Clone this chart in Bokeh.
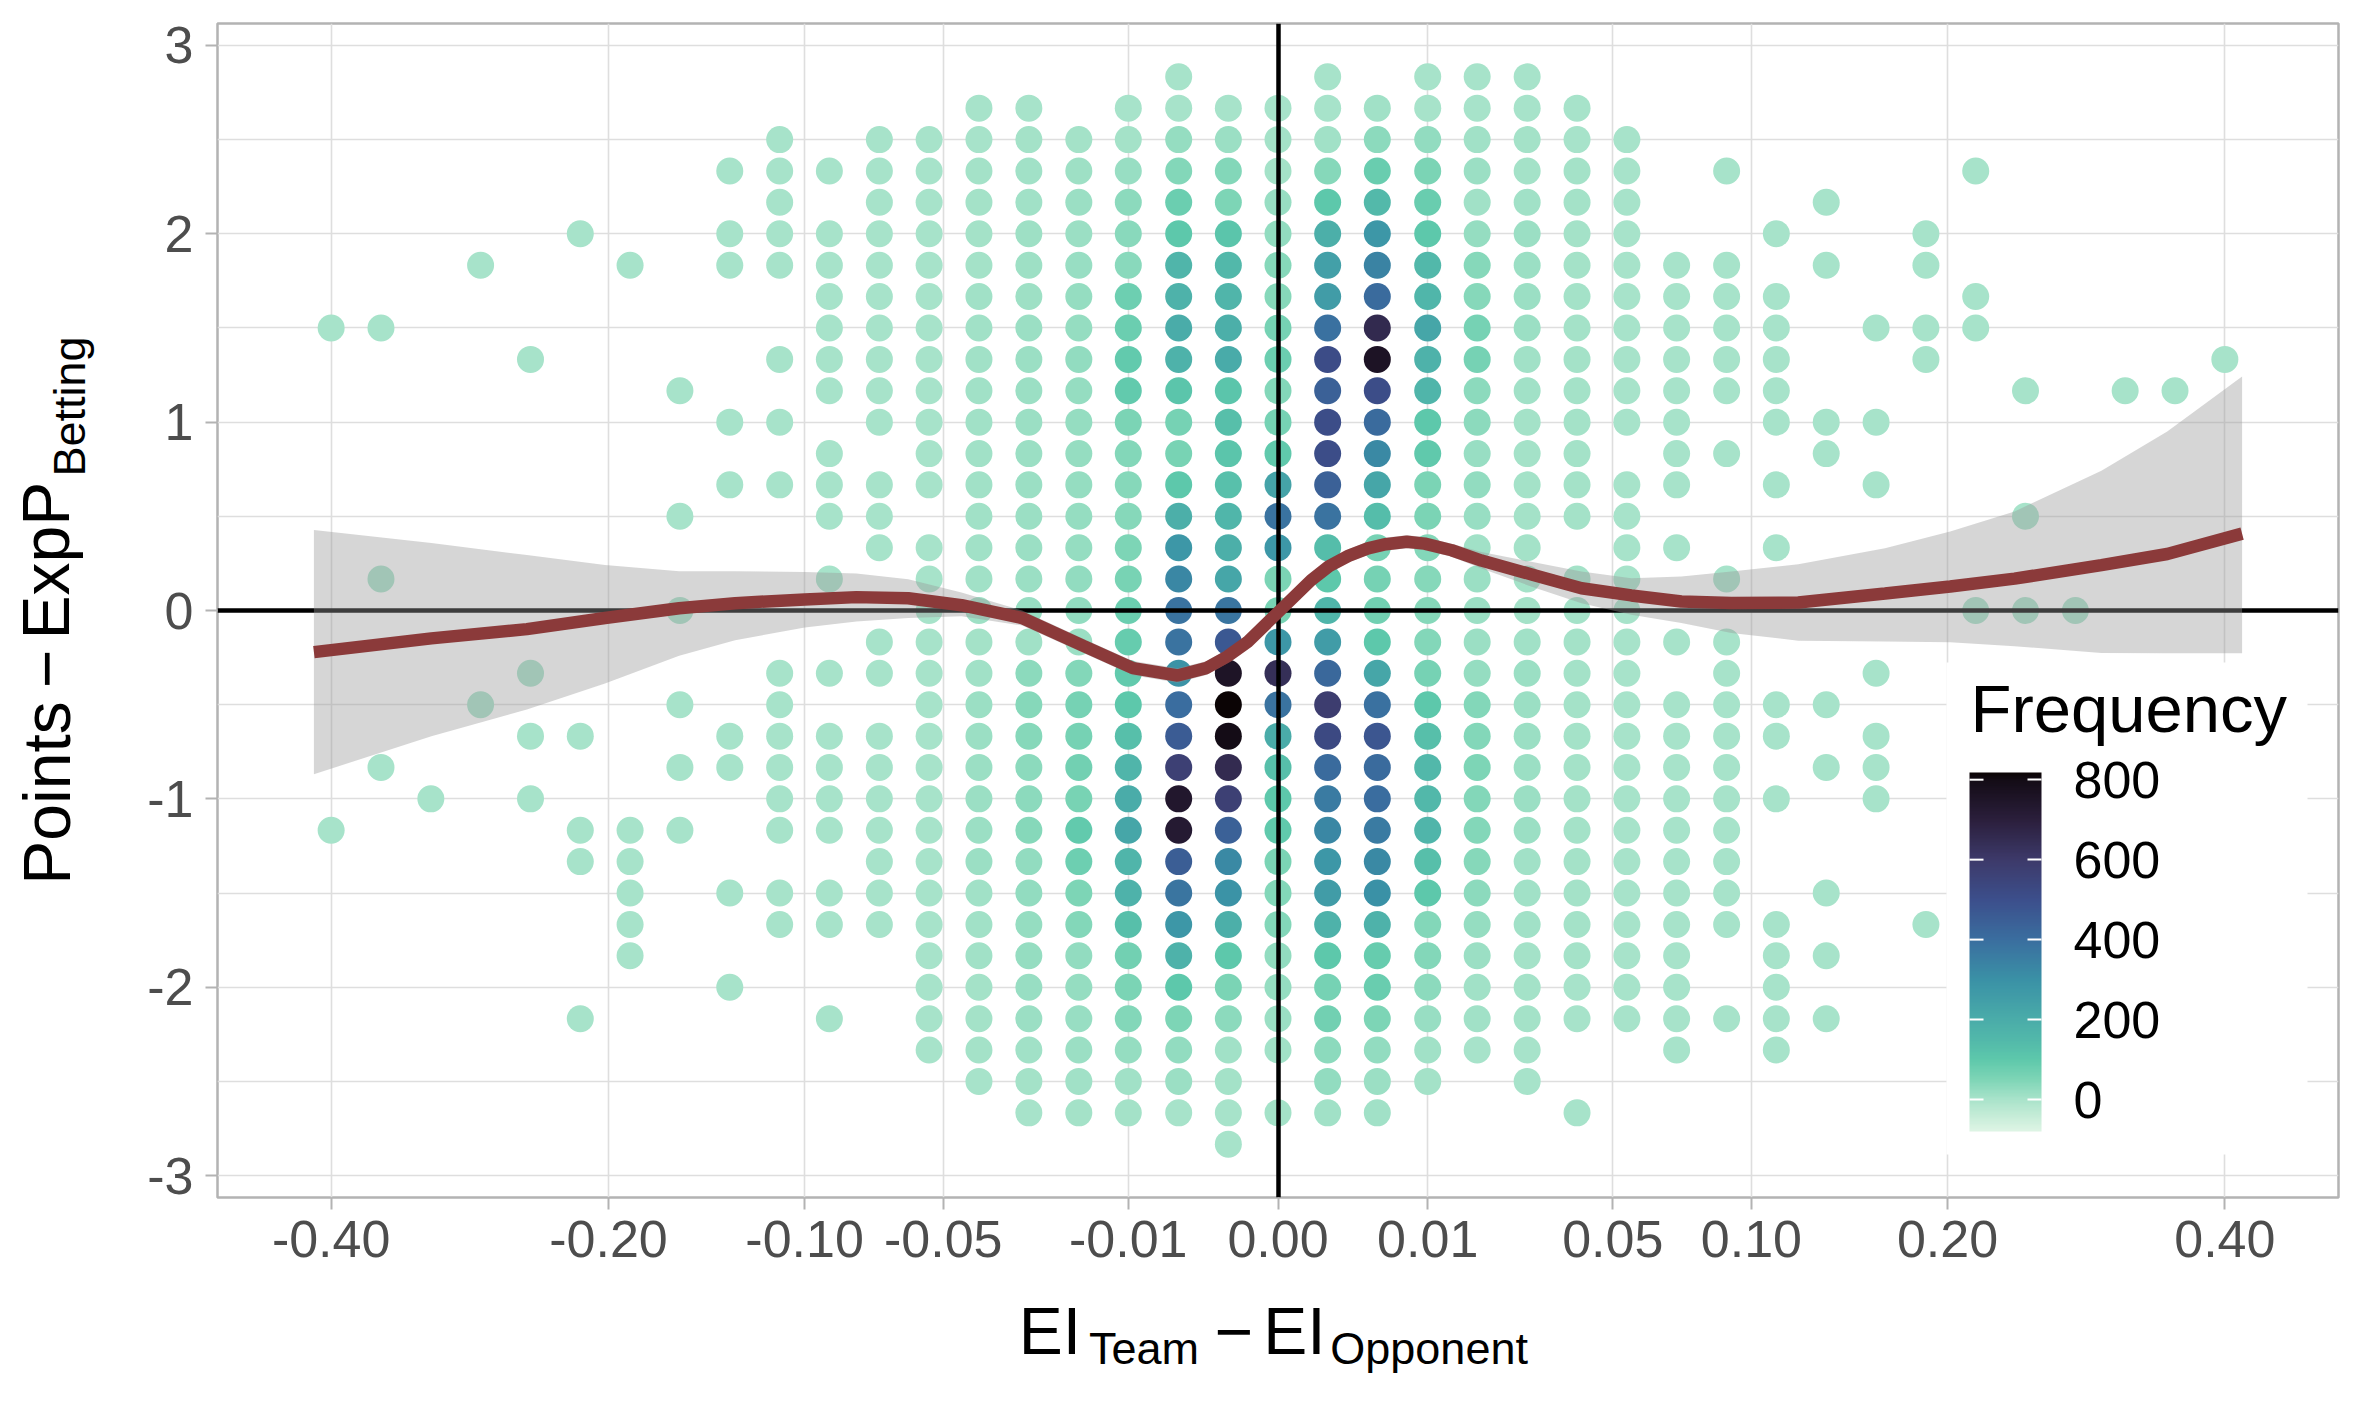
import numpy as np
from bokeh.plotting import figure
from bokeh.models import (ColumnDataSource, LinearColorMapper, ColorBar, FixedTicker, Label,
                          LinearAxis, BoxAnnotation)
from bokeh.embed import file_html
from bokeh.resources import INLINE

# ---------------- data ----------------
# bin centres of EI_Team - EI_Opponent (39 columns)
ei_bins = [-0.4000, -0.3590, -0.3202, -0.2837, -0.2493, -0.2172, -0.1873, -0.1596,
           -0.1341, -0.1108, -0.0898, -0.0709, -0.0543, -0.0399, -0.0277, -0.0177,
           -0.0100, -0.0044, -0.0011, 0.0, 0.0011, 0.0044, 0.0100, 0.0177, 0.0277,
           0.0399, 0.0543, 0.0709, 0.0898, 0.1108, 0.1341, 0.1596, 0.1873, 0.2172,
           0.2493, 0.2837, 0.3202, 0.3590, 0.4000]

# Points - ExpP_Betting rows (top to bottom)
row_values = [2.833, 2.667, 2.5, 2.333, 2.167, 2.0, 1.833, 1.667, 1.5, 1.333, 1.167,
              1.0, 0.833, 0.667, 0.5, 0.333, 0.167, 0.0, -0.167, -0.333, -0.5, -0.667,
              -0.833, -1.0, -1.167, -1.333, -1.5, -1.667, -1.833, -2.0, -2.167, -2.333,
              -2.5, -2.667, -2.833]

# frequencies of the dense central columns (one value per row, 0 = no point)
freq_m7 = [0, 0, 2, 2, 2, 3, 3, 3, 3, 3, 3, 3, 3, 3, 0, 3, 3, 3,
           3, 3, 3, 3, 3, 3, 3, 3, 3, 3, 2, 2, 2, 1, 0, 0, 0]
freq_m6 = [0, 2, 4, 5, 6, 7, 7, 8, 8, 9, 9, 9, 9, 9, 10, 10, 10, 12,
           5, 10, 15, 15, 15, 15, 15, 15, 10, 10, 10, 7, 7, 5, 3, 0, 0]
freq_m5 = [0, 3, 6, 8, 10, 12, 12, 14, 15, 18, 16, 15, 15, 15, 15, 16, 18, 20,
           10, 33, 40, 40, 33, 33, 40, 28, 28, 22, 22, 20, 15, 10, 7, 3, 0]
freq_m4 = [0, 0, 5, 12, 15, 18, 20, 22, 24, 26, 25, 24, 22, 22, 22, 24, 26, 28,
           18, 46, 62, 62, 68, 60, 92, 75, 50, 46, 28, 22, 20, 15, 10, 5, 0]
freq_m3 = [0, 3, 7, 20, 33, 38, 38, 75, 80, 92, 94, 54, 46, 42, 40, 50, 60, 78,
           85, 92, 100, 130, 165, 200, 225, 165, 175, 130, 68, 54, 46, 22, 10, 5, 0]
freq_m2 = [2, 4, 22, 46, 80, 100, 165, 175, 200, 175, 110, 62, 60, 100, 190, 280, 330, 385,
           385, 295, 402, 460, 570, 740, 725, 450, 380, 280, 175, 100, 50, 28, 15, 3, 0]
freq_m1 = [0, 3, 18, 46, 50, 110, 150, 165, 190, 205, 110, 130, 110, 125, 160, 190, 225, 380,
           470, 755, 815, 800, 655, 570, 442, 320, 295, 190, 100, 54, 33, 10, 5, 3, 1]
freq_0 = [0, 3, 5, 7, 20, 26, 40, 40, 62, 80, 46, 62, 98, 235, 385, 280, 54, 60,
          280, 640, 385, 200, 130, 100, 98, 54, 46, 46, 28, 22, 15, 10, 0, 5, 0]
freq_p1 = [2, 3, 10, 40, 100, 190, 245, 260, 392, 515, 442, 510, 510, 442, 385, 135, 100, 165,
           260, 420, 585, 530, 410, 365, 330, 280, 260, 175, 100, 62, 68, 33, 28, 10, 0]
freq_p2 = [0, 10, 33, 83, 145, 280, 340, 408, 660, 760, 510, 410, 320, 225, 135, 62, 62, 70,
           100, 225, 392, 475, 410, 402, 365, 320, 300, 175, 85, 83, 50, 28, 15, 10, 0]
freq_p3 = [2, 3, 28, 54, 83, 100, 150, 160, 225, 175, 165, 100, 98, 54, 54, 46, 42, 40,
           46, 62, 100, 130, 150, 150, 165, 130, 100, 46, 46, 33, 20, 10, 5, 0, 0]
freq_p4 = [2, 4, 10, 15, 10, 22, 40, 40, 62, 62, 33, 33, 20, 28, 20, 10, 15, 15,
           18, 22, 46, 46, 50, 46, 46, 40, 33, 22, 15, 10, 10, 3, 0, 0, 0]
freq_p5 = [2, 2, 5, 7, 10, 15, 15, 15, 15, 10, 10, 7, 7, 7, 7, 5, 5, 7,
           10, 15, 15, 15, 15, 15, 15, 10, 10, 10, 7, 7, 5, 3, 2, 0, 0]
freq_p6 = [0, 2, 3, 5, 5, 6, 6, 6, 6, 6, 6, 6, 6, 5, 5, 0, 5, 7,
           7, 7, 7, 7, 7, 7, 7, 7, 7, 5, 5, 3, 3, 0, 0, 2, 0]
freq_p7 = [0, 0, 2, 2, 2, 2, 2, 2, 2, 2, 2, 2, 0, 2, 2, 2, 2, 2,
           2, 2, 2, 2, 2, 2, 2, 2, 2, 2, 2, 2, 2, 0, 0, 0, 0]

# sparse outer columns: rows (Points - ExpP) holding a single-count point
rows_m19 = [1.5, -1.167]
rows_m18 = [1.5, 0.167, -0.833]
rows_m17 = [-1.0]
rows_m16 = [1.833, -0.5]
rows_m15 = [1.333, -0.333, -0.667, -1.0]
rows_m14 = [2.0, -0.667, -1.167, -1.333, -2.167]
rows_m13 = [1.833, -1.167, -1.333, -1.5, -1.667, -1.833]
rows_m12 = [1.167, 0.5, 0.0, -0.5, -0.833, -1.167]
rows_m11 = [2.333, 2.0, 1.833, 1.0, 0.667, -0.667, -0.833, -1.5, -2.0]
rows_m10 = [2.5, 2.333, 2.167, 2.0, 1.833, 1.333, 1.0, 0.667, -0.333, -0.5, -0.667,
            -0.833, -1.0, -1.167, -1.5, -1.667]
rows_m9 = [2.333, 2.0, 1.833, 1.667, 1.5, 1.333, 1.167, 0.833, 0.667, 0.5, 0.167,
           -0.333, -0.667, -0.833, -1.0, -1.167, -1.5, -1.667, -2.167]
rows_m8 = [2.5, 2.333, 2.167, 2.0, 1.833, 1.667, 1.5, 1.333, 1.167, 1.0, 0.667, 0.5,
           0.333, -0.167, -0.333, -0.667, -0.833, -1.0, -1.167, -1.333, -1.5, -1.667]
rows_p8 = [1.833, 1.667, 1.5, 1.333, 1.167, 1.0, 0.833, 0.667, 0.333, -0.167, -0.5,
           -0.667, -0.833, -1.0, -1.167, -1.333, -1.5, -1.667, -1.833, -2.0, -2.167, -2.333]
rows_p9 = [2.333, 1.833, 1.667, 1.5, 1.333, 1.167, 0.833, 0.167, -0.167, -0.333, -0.5,
           -0.667, -0.833, -1.0, -1.167, -1.333, -1.5, -1.667, -2.167]
rows_p10 = [2.0, 1.667, 1.5, 1.333, 1.167, 1.0, 0.667, 0.333, -0.5, -0.667, -1.0,
            -1.667, -1.833, -2.0, -2.167, -2.333]
rows_p11 = [2.167, 1.833, 1.0, 0.833, -0.5, -0.833, -1.5, -1.833, -2.167]
rows_p12 = [1.5, 1.0, 0.667, -0.333, -0.667, -0.833, -1.0]
rows_p13 = [2.0, 1.833, 1.5, 1.333, -1.667]
rows_p14 = [2.333, 1.667, 1.5, 0.0]
rows_p15 = [1.167, 0.5, 0.0]
rows_p16 = [0.0]
rows_p17 = [1.167]
rows_p18 = [1.167]
rows_p19 = [1.333]

# smoother (loess) and its confidence band
smooth_x = [-0.4147, -0.3198, -0.2517, -0.2021, -0.1600, -0.1315, -0.0999, -0.0793,
            -0.0610, -0.0447, -0.0292, -0.0169, -0.0094, -0.0045, -0.0023, -0.00116,
            -0.00042, 0.0, 0.000121, 0.000484, 0.001156, 0.002209, 0.0036, 0.005184,
            0.0074, 0.0096, 0.01346, 0.01847, 0.0289, 0.0411, 0.0557, 0.0726, 0.0917,
            0.1208, 0.1644, 0.2016, 0.2421, 0.3025, 0.3528, 0.4147]
smooth_y = [-0.221, -0.148, -0.099, -0.040, 0.012, 0.039, 0.059, 0.071, 0.065, 0.028,
            -0.040, -0.188, -0.306, -0.345, -0.306, -0.245, -0.168, -0.010, 0.075,
            0.160, 0.235, 0.290, 0.330, 0.352, 0.365, 0.355, 0.320, 0.265, 0.190,
            0.118, 0.080, 0.048, 0.040, 0.042, 0.090, 0.127, 0.169, 0.241, 0.300, 0.408]
smooth_lo = [-0.869, -0.668, -0.525, -0.387, -0.240, -0.158, -0.090, -0.058, -0.040,
             -0.030, -0.080, -0.226, -0.344, -0.383, -0.343, -0.281, -0.203, -0.044,
             0.040, 0.125, 0.200, 0.255, 0.295, 0.317, 0.330, 0.320, 0.285, 0.223,
             0.125, 0.039, -0.022, -0.067, -0.120, -0.160, -0.165, -0.168, -0.190,
             -0.225, -0.227, -0.227]
smooth_hi = [0.428, 0.359, 0.294, 0.241, 0.208, 0.208, 0.205, 0.196, 0.166, 0.095,
             0.000, -0.150, -0.268, -0.307, -0.269, -0.209, -0.133, 0.024, 0.110,
             0.195, 0.270, 0.325, 0.365, 0.387, 0.400, 0.390, 0.355, 0.310, 0.258,
             0.207, 0.171, 0.180, 0.207, 0.245, 0.330, 0.420, 0.526, 0.742, 0.950, 1.242]

x_tick_values = [-0.40, -0.20, -0.10, -0.05, -0.01, 0.00, 0.01, 0.05, 0.10, 0.20, 0.40]
x_tick_labels = ["-0.40", "-0.20", "-0.10", "-0.05", "-0.01", "0.00", "0.01", "0.05",
                 "0.10", "0.20", "0.40"]
y_tick_values = [-3, -2, -1, 0, 1, 2, 3]
y_tick_labels = ["-3", "-2", "-1", "0", "1", "2", "3"]
y_minor_values = [-2.5, -1.5, -0.5, 0.5, 1.5, 2.5]
freq_ticks = [0, 200, 400, 600, 800]
freq_limits = (-80, 818)

# ---------------- assemble ----------------
def tx(v):
    v = np.asarray(v, dtype=float)
    return np.sign(v) * np.sqrt(np.abs(v))   # signed square-root x scale

dense = {-7: freq_m7, -6: freq_m6, -5: freq_m5, -4: freq_m4, -3: freq_m3, -2: freq_m2,
         -1: freq_m1, 0: freq_0, 1: freq_p1, 2: freq_p2, 3: freq_p3, 4: freq_p4,
         5: freq_p5, 6: freq_p6, 7: freq_p7}
sparse = {-19: rows_m19, -18: rows_m18, -17: rows_m17, -16: rows_m16, -15: rows_m15,
          -14: rows_m14, -13: rows_m13, -12: rows_m12, -11: rows_m11, -10: rows_m10,
          -9: rows_m9, -8: rows_m8, 8: rows_p8, 9: rows_p9, 10: rows_p10, 11: rows_p11,
          12: rows_p12, 13: rows_p13, 14: rows_p14, 15: rows_p15, 16: rows_p16,
          17: rows_p17, 18: rows_p18, 19: rows_p19}

px, py, pf = [], [], []
for k, col in sparse.items():
    for yv in col:
        px.append(ei_bins[k + 19]); py.append(yv); pf.append(1)
for k, col in dense.items():
    for yv, f in zip(row_values, col):
        if f > 0:
            px.append(ei_bins[k + 19]); py.append(yv); pf.append(f)

pts = ColumnDataSource(dict(x=tx(px), y=py, f=pf))

# mako-like palette (reversed: light = low)
stops = [(-80, "#DEF5E5"), (-40, "#C4ECD7"), (0, "#A8E3CA"), (50, "#7DD5B6"),
         (100, "#5DC8AB"), (150, "#52B8AA"), (200, "#4AACA9"), (300, "#3A91A6"),
         (400, "#3A6E9F"), (500, "#3C4F8C"), (600, "#3D3A6A"), (700, "#2B1F3C"),
         (800, "#140C16"), (818, "#0B0405")]
sv = [s[0] for s in stops]
rgb = np.array([[int(h[i:i + 2], 16) for i in (1, 3, 5)] for _, h in stops], dtype=float)
palette = []
for v in np.linspace(freq_limits[0], freq_limits[1], 256):
    c = [int(round(np.interp(v, sv, rgb[:, i]))) for i in range(3)]
    palette.append("#%02x%02x%02x" % tuple(c))
mapper = LinearColorMapper(palette=palette, low=freq_limits[0], high=freq_limits[1])

sx = tx(smooth_x)
xpad = 0.05 * (sx.max() - sx.min())
x0, x1 = float(sx.min() - xpad), float(sx.max() + xpad)
ylo = min(min(py), min(smooth_lo)); yhi = max(max(py), max(smooth_hi))
ypad = 0.05 * (yhi - ylo)
y0, y1 = float(ylo - ypad), float(yhi + ypad)

# layout (pixels)
W, H = 2346, 1401
FL, FR, FT, FB = 217, 2338, 23, 1197     # frame edges on the canvas
FONT = "Liberation Sans"

p = figure(width=W, height=H, output_backend="svg", toolbar_location=None,
           x_range=(x0, x1), y_range=(y0, y1),
           min_border_left=FL, min_border_right=W - FR, min_border_top=FT,
           min_border_bottom=H - FB)
p.background_fill_color = "white"
p.border_fill_color = "white"
p.outline_line_color = "#B3B3B3"
p.outline_line_width = 2.5

xt = [float(v) for v in tx(x_tick_values)]
p.xaxis.ticker = FixedTicker(ticks=xt)
p.xgrid.ticker = FixedTicker(ticks=xt)
p.xaxis.major_label_overrides = {t: l for t, l in zip(xt, x_tick_labels)}
p.yaxis.ticker = FixedTicker(ticks=y_tick_values, minor_ticks=y_minor_values)
p.ygrid.ticker = FixedTicker(ticks=y_tick_values, minor_ticks=y_minor_values)
p.yaxis.major_label_overrides = {t: l for t, l in zip(y_tick_values, y_tick_labels)}
for g in (p.xgrid[0], p.ygrid[0]):
    g.grid_line_color = "#DEDEDE"
    g.grid_line_width = 1.6
p.ygrid.minor_grid_line_color = "#DEDEDE"
p.ygrid.minor_grid_line_width = 1.4
for ax in (p.xaxis[0], p.yaxis[0]):
    ax.axis_line_color = None
    ax.major_tick_line_color = "#B3B3B3"
    ax.major_tick_line_width = 2
    ax.major_tick_out = 12
    ax.major_tick_in = 0
    ax.minor_tick_line_color = None
    ax.major_label_text_font = FONT
    ax.major_label_text_font_size = "52px"
    ax.major_label_text_color = "#4D4D4D"
p.xaxis.major_label_standoff = 11
p.yaxis.major_label_standoff = 12

p.scatter("x", "y", source=pts, size=27, line_color=None,
          fill_color={"field": "f", "transform": mapper})
p.hspan(y=[0], line_color="black", line_width=4.5)
p.vspan(x=[0], line_color="black", line_width=4.5)
p.varea(x=sx, y1=smooth_lo, y2=smooth_hi, fill_color="#999999", fill_alpha=0.4)
p.line(sx, smooth_y, line_color="#8B3A3A", line_width=12.5)

# legend: white box, title and colour bar
BAR_L, BAR_B, BAR_W, BAR_H = 1969, 1131, 72, 359
p.add_layout(BoxAnnotation(left=1946 - FL, right=2307 - FL, bottom=FB - 1154, top=FB - 662,
                           left_units="screen", right_units="screen",
                           bottom_units="screen", top_units="screen",
                           fill_color="white", fill_alpha=1.0, line_color=None))
cb = ColorBar(color_mapper=mapper, ticker=FixedTicker(ticks=freq_ticks),
              location=(BAR_L - 10 - FL, FB - BAR_B - 10), width=BAR_W, height=BAR_H,
              padding=10,
              major_label_text_font=FONT, major_label_text_font_size="52px",
              major_label_text_color="black", label_standoff=32,
              major_tick_line_color="white", major_tick_line_width=2,
              major_tick_in=14, major_tick_out=0, minor_tick_line_color=None,
              bar_line_color=None, border_line_color=None,
              background_fill_color="white", background_fill_alpha=0.0)
p.add_layout(cb)
# white tick marks on the left edge of the colour bar (ggplot draws both sides)
for v in freq_ticks:
    yb = BAR_B - (v - freq_limits[0]) / (freq_limits[1] - freq_limits[0]) * BAR_H
    p.add_layout(BoxAnnotation(left=BAR_L - FL, right=BAR_L + 14 - FL,
                               bottom=FB - yb - 1, top=FB - yb + 1,
                               left_units="screen", right_units="screen",
                               bottom_units="screen", top_units="screen",
                               fill_color="white", fill_alpha=1.0, line_color=None))
p.add_layout(Label(x=1970 - FL, y=FB - 708, x_units="screen", y_units="screen",
                   text="Frequency", text_font=FONT, text_font_size="67px",
                   text_color="black", text_align="left", text_baseline="alphabetic"))

# axis titles with subscripts, drawn as labels of extra (line-less) axes
def px_to_x(cx):
    return float(x0 + (cx - FL) / (FR - FL) * (x1 - x0))

def px_to_y(cy):
    return float(y1 - (cy - FT) / (FB - FT) * (y1 - y0))

def title_axis(side, centers, texts, size, standoff, conv):
    ticks = [conv(c) for c in centers]
    kw = dict(ticker=FixedTicker(ticks=ticks),
              major_label_overrides={t: s for t, s in zip(ticks, texts)},
              axis_line_color=None, major_tick_line_color=None, minor_tick_line_color=None,
              major_tick_out=0, major_tick_in=0, minor_tick_out=0, minor_tick_in=0,
              major_label_text_font=FONT, major_label_text_font_size=size,
              major_label_text_color="black", major_label_standoff=standoff)
    if side == "left":
        kw["major_label_orientation"] = "vertical"
    p.add_layout(LinearAxis(**kw), side)

# x title: EI_Team - EI_Opponent
title_axis("below", [1049.5, 1233.5, 1294.0], ["EI", "\u2212", "EI"], "66px", 34, px_to_x)
title_axis("below", [1143.5, 1428.6], ["Team", "Opponent"], "45px", -48, px_to_x)
# y title: Points - ExpP_Betting
title_axis("left", [406.0], ["Betting"], "45px", 50, px_to_y)
title_axis("left", [792.5, 668.3, 560.2], ["Points", "\u2212", "ExpP"], "66px", -43, px_to_y)

open("out.html", "w").write(file_html(p, INLINE))
